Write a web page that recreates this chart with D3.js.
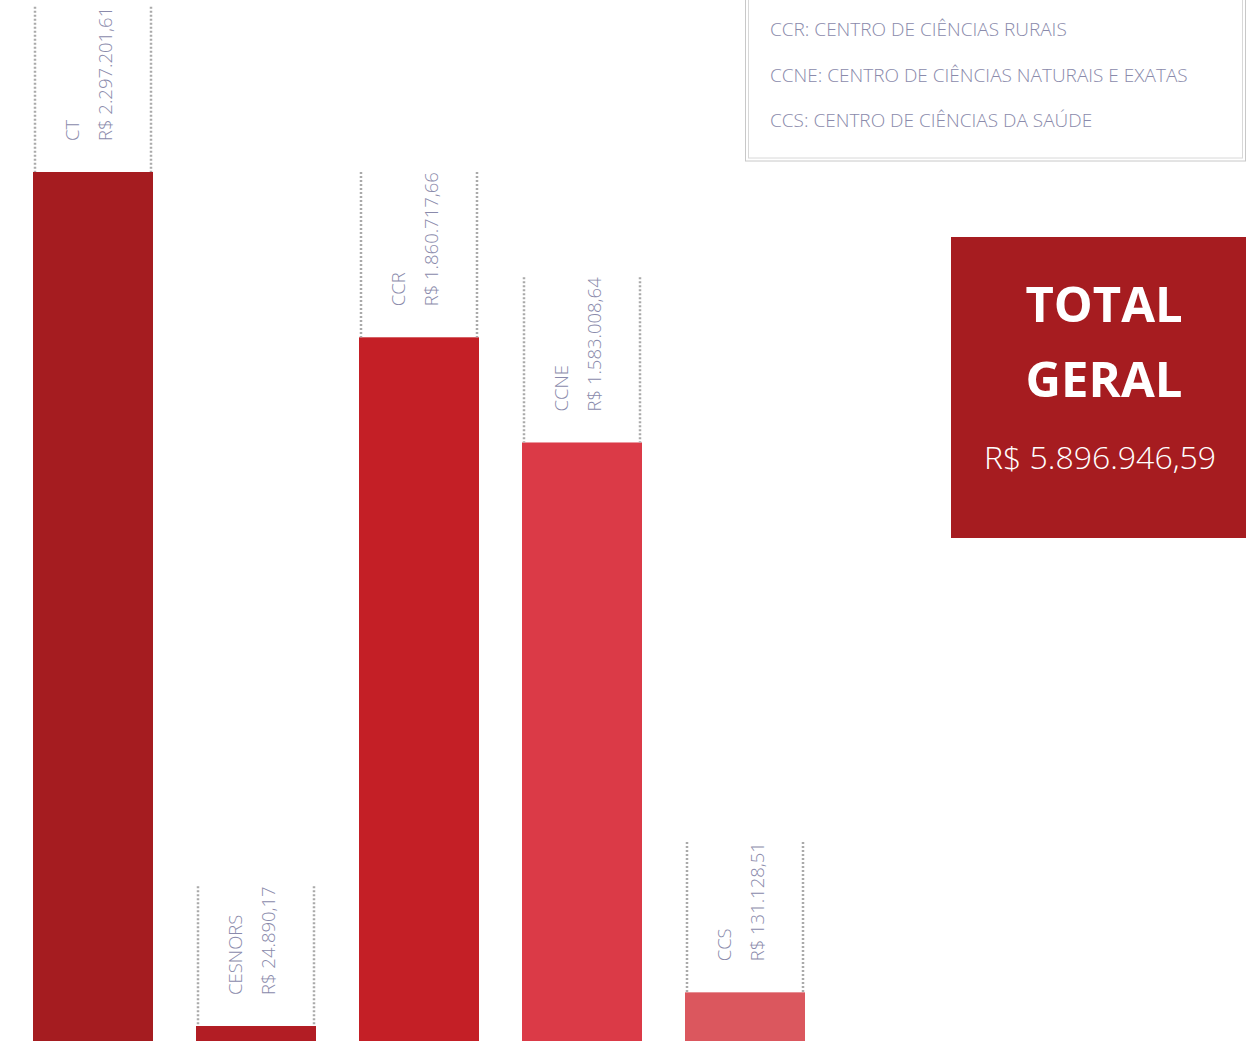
<!DOCTYPE html>
<html lang="pt">
<head>
<meta charset="utf-8">
<title>Centros</title>
<script src="https://d3js.org/d3.v7.min.js"></script>
<style>
  body { margin: 0; background: #fff; }
  svg { display: block; font-family: "Open Sans", sans-serif; }
</style>
</head>
<body>
<div id="main"></div>
<script>
var centros = ["CT", "CESNORS", "CCR", "CCNE", "CCS"];
var valores = [2297201.61, 24890.17, 1860717.66, 1583008.64, 131128.51];
var rotulos = ["R$ 2.297.201,61", "R$ 24.890,17", "R$ 1.860.717,66", "R$ 1.583.008,64", "R$ 131.128,51"];
var cores = ["#a51c20", "#b21d24", "#c41f26", "#db3a47", "#db575e"];
var legenda = ["CCR: CENTRO DE CIÊNCIAS RURAIS", "CCNE: CENTRO DE CIÊNCIAS NATURAIS E EXATAS", "CCS: CENTRO DE CIÊNCIAS DA SAÚDE"];
var totalTexto = "R$ 5.896.946,59";

var width = 1259, height = 1041;
var corTexto = "#8a8aab";

var svg = d3.select("#main").append("svg")
  .attr("width", width)
  .attr("height", height);

var x = d3.scaleBand()
  .domain(centros)
  .range([33, 805])
  .paddingInner(43 / 163)
  .paddingOuter(0);

var y = d3.scaleLinear()
  .domain([0, d3.max(valores)])
  .range([1042, 172]);

var minH = 16;
function topo(v) { return Math.min(y(v), y(0) - minH); }

var dados = centros.map(function(c, i) {
  return { nome: c, valor: valores[i], rotulo: rotulos[i], cor: cores[i] };
});

var g = svg.append("g");

g.selectAll("rect.bar")
  .data(dados)
  .enter().append("rect")
  .attr("class", "bar")
  .attr("x", function(d) { return x(d.nome); })
  .attr("width", x.bandwidth())
  .attr("y", function(d) { return topo(d.valor); })
  .attr("height", function(d) { return y(0) - topo(d.valor); })
  .attr("fill", function(d) { return d.cor; });

var rot = g.selectAll("g.rot")
  .data(dados)
  .enter().append("g")
  .attr("class", "rot")
  .attr("transform", function(d) {
    return "translate(" + (x(d.nome) + 46) + "," + (topo(d.valor) - 31) + ") rotate(-90)";
  });

rot.append("text")
  .attr("y", 0)
  .attr("fill", corTexto)
  .attr("font-size", 18.5)
  .attr("font-weight", 300)
  .text(function(d) { return d.nome; });

rot.append("text")
  .attr("class", "val")
  .attr("y", 33)
  .attr("fill", corTexto)
  .attr("font-size", 18.5)
  .attr("font-weight", 300)
  .text(function(d) { return d.rotulo; });

// dotted guides from bar top to end of the value text
rot.each(function(d) {
  var len = d3.select(this).select("text.val").node().getComputedTextLength();
  var y1 = topo(d.valor), y0 = y1 - 31 - len;
  [x(d.nome) + 2, x(d.nome) + x.bandwidth() - 2].forEach(function(px) {
    g.append("line")
      .attr("x1", px).attr("x2", px)
      .attr("y1", y0).attr("y2", y1)
      .attr("stroke", "#aaaaaa")
      .attr("stroke-width", 2.5)
      .attr("stroke-dasharray", "2,2");
  });
});

// legend box
var leg = svg.append("g");
leg.append("rect")
  .attr("x", 745.5).attr("y", -20)
  .attr("width", 500).attr("height", 181)
  .attr("fill", "none").attr("stroke", "#c8c8c8");
leg.append("rect")
  .attr("x", 748.5).attr("y", -20)
  .attr("width", 494).attr("height", 178)
  .attr("fill", "#fff").attr("stroke", "#d8d8d8");
leg.selectAll("text")
  .data(legenda)
  .enter().append("text")
  .attr("x", 770)
  .attr("y", function(d, i) { return 36 + i * 45.5; })
  .attr("fill", corTexto)
  .attr("font-size", 19)
  .attr("font-weight", 300)
  .text(function(d) { return d; });

// total box
var tot = svg.append("g");
tot.append("rect")
  .attr("x", 951).attr("y", 237)
  .attr("width", 295).attr("height", 301)
  .attr("fill", "#a61c20");
tot.selectAll("text.t")
  .data(["TOTAL", "GERAL"])
  .enter().append("text")
  .attr("class", "t")
  .attr("x", 1104)
  .attr("y", function(d, i) { return 322 + i * 75; })
  .attr("text-anchor", "middle")
  .attr("fill", "#fff")
  .attr("font-size", 49)
  .attr("font-weight", 700)
  .text(function(d) { return d; });
tot.append("text")
  .attr("x", 1100)
  .attr("y", 469)
  .attr("text-anchor", "middle")
  .attr("fill", "#fff")
  .attr("font-size", 32)
  .attr("font-weight", 300)
  .text(totalTexto);
</script>
</body>
</html>
